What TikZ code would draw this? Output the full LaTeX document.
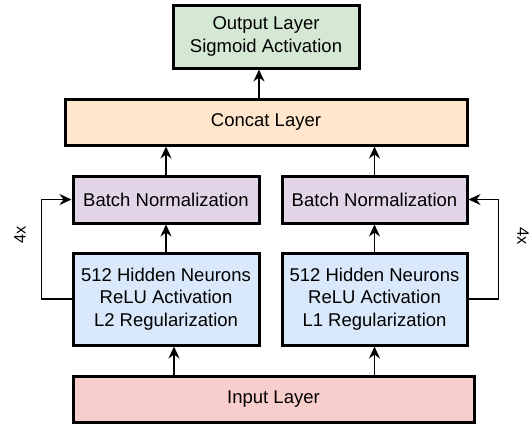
\documentclass[tikz,border=0pt]{standalone}
\usepackage{fontspec}
\setmainfont{Liberation Sans}
\usetikzlibrary{arrows.meta}
\definecolor{outfill}{HTML}{D5E8D4}
\definecolor{catfill}{HTML}{FFE6CC}
\definecolor{bnfill}{HTML}{E1D5E7}
\definecolor{hidfill}{HTML}{DAE8FC}
\definecolor{infill}{HTML}{F8CECC}
\tikzset{
  box/.style={draw=black, line width=3pt, align=center, inner sep=0pt,
    font=\fontsize{18.5}{22.5}\selectfont},
  arr/.style={line width=1.6pt, -{Stealth[length=12pt,width=11pt,inset=4pt]}},
  lbl/.style={font=\fontsize{16.5}{19}\selectfont, inner sep=0pt},
}
\begin{document}
\begin{tikzpicture}[x=1pt,y=-1pt]
\useasboundingbox (0,0) rectangle (529,424);
\node[box, fill=outfill, minimum width=186pt, minimum height=63pt] (out) at (266,36.5) {Output Layer\\Sigmoid Activation};
\node[box, fill=catfill, minimum width=402pt, minimum height=46pt] (cat) at (266,122) {Concat Layer};
\node[box, fill=bnfill, minimum width=186pt, minimum height=47pt] (bnL) at (166,199.5) {Batch Normalization};
\node[box, fill=bnfill, minimum width=185pt, minimum height=47pt] (bnR) at (374.5,199.5) {Batch Normalization};
\node[box, fill=hidfill, minimum width=186pt, minimum height=92pt] (hidL) at (166,299) {512 Hidden Neurons\\ReLU Activation\\L2 Regularization};
\node[box, fill=hidfill, minimum width=185pt, minimum height=92pt] (hidR) at (374.5,299) {512 Hidden Neurons\\ReLU Activation\\L1 Regularization};
\node[box, fill=infill, minimum width=401pt, minimum height=46pt] (inp) at (273.5,399) {Input Layer};
\node[lbl, rotate=90] (l4) at (20,235) {4x};
\node[lbl, rotate=-90] (r4) at (523,236) {4x};
% connectors
\draw[arr] ([xshift=-7pt]cat.north) -- ([xshift=-7pt]out.south);
\draw[arr] (bnL.north) -- (bnL.north |- cat.south);
\draw[arr] (bnR.north) -- (bnR.north |- cat.south);
\draw[arr] (hidL.north) -- (bnL.south);
\draw[arr] (hidR.north) -- (bnR.south);
\draw[arr] ([xshift=8pt]hidL.south |- inp.north) -- ([xshift=8pt]hidL.south);
\draw[arr] (hidR.south |- inp.north) -- (hidR.south);
\draw[arr] (hidL.west) -- ++(-30,0) |- (bnL.west);
\draw[arr] (hidR.east) -- ++(30,0) |- (bnR.east);
\end{tikzpicture}
\end{document}
